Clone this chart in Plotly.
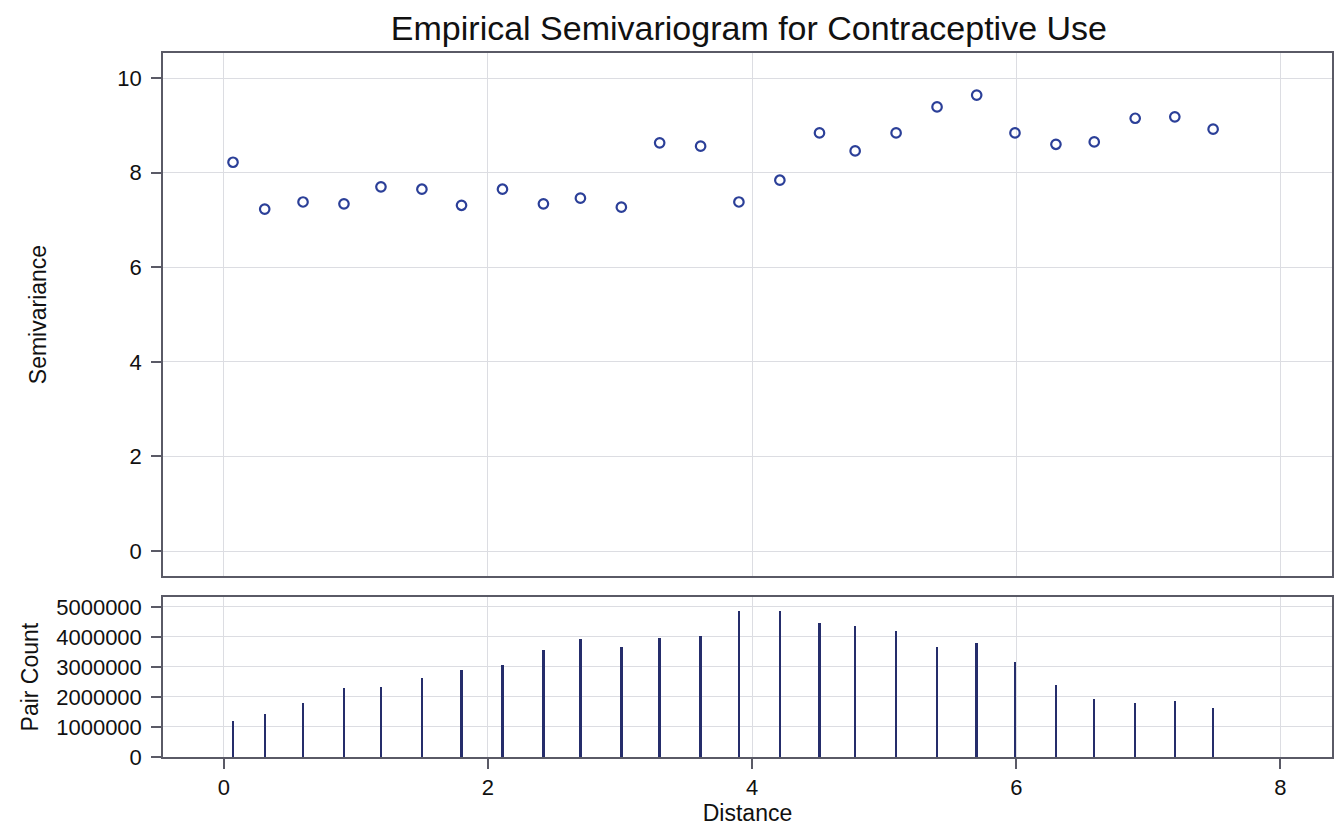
import plotly.graph_objects as go
from plotly.subplots import make_subplots

distance = [0.07, 0.31, 0.60, 0.91, 1.19, 1.50, 1.80, 2.11, 2.42, 2.70, 3.01, 3.30,
            3.61, 3.90, 4.21, 4.51, 4.78, 5.09, 5.40, 5.70, 5.99, 6.30, 6.59, 6.90,
            7.20, 7.49]
semivariance = [8.22, 7.23, 7.38, 7.34, 7.70, 7.65, 7.31, 7.65, 7.34, 7.46, 7.27, 8.63,
                8.56, 7.38, 7.84, 8.84, 8.46, 8.84, 9.39, 9.64, 8.84, 8.60, 8.65, 9.15,
                9.18, 8.92]
pair_count = [1180000, 1440000, 1790000, 2280000, 2340000, 2640000, 2880000, 3050000,
              3540000, 3920000, 3670000, 3960000, 4020000, 4870000, 4870000, 4450000,
              4340000, 4200000, 3670000, 3790000, 3160000, 2400000, 1930000, 1790000,
              1850000, 1610000]

FONT = "Liberation Sans, Arial, Helvetica, sans-serif"
LINE = "#5a5a66"
GRID = "#dcdde2"

fig = make_subplots(rows=2, cols=1, shared_xaxes=True, vertical_spacing=0.03,
                    row_heights=[0.77, 0.23])

fig.add_trace(go.Scatter(
    x=distance, y=semivariance, mode="markers",
    marker=dict(symbol="circle-open", size=9.5, color="#2b3f98", line=dict(width=2.2)),
    showlegend=False), row=1, col=1)

fig.add_trace(go.Bar(
    x=distance, y=pair_count, width=0.018,
    marker=dict(color="#252d6b", line=dict(width=0)),
    showlegend=False), row=2, col=1)

fig.update_layout(
    width=1335, height=826,
    margin=dict(l=163, r=1, t=53, b=69),
    paper_bgcolor="white", plot_bgcolor="white",
    font=dict(family=FONT, size=22, color="#111"),
    title=dict(text="Empirical Semivariogram for Contraceptive Use",
               font=dict(size=34, color="#111"), x=0.561, xanchor="center",
               y=0.966, yanchor="middle"),
    bargap=0,
)

fig.update_layout(
    yaxis=dict(domain=[0.257, 1.0]),
    yaxis2=dict(domain=[0.0, 0.227]),
)

xcommon = dict(range=[-0.46, 8.39], tickvals=[0, 2, 4, 6, 8], showgrid=True,
               gridcolor=GRID, gridwidth=1, showline=True, linecolor=LINE,
               linewidth=1.5, mirror=True, zeroline=False)
fig.update_xaxes(**xcommon, row=1, col=1, ticks="", showticklabels=False)
fig.update_xaxes(**xcommon, row=2, col=1, ticks="outside", ticklen=10,
                 tickcolor=LINE, tickwidth=1.5, automargin=False,
                 title=dict(text="Distance", font=dict(size=23), standoff=11))

fig.update_yaxes(range=[-0.53, 10.53], tickvals=[0, 2, 4, 6, 8, 10],
                 showgrid=True, gridcolor=GRID, showline=True, linecolor=LINE,
                 linewidth=1.5, mirror=True, zeroline=False, ticks="outside",
                 ticklen=10, tickcolor=LINE, tickwidth=1.5, ticklabelstandoff=5,
                 title=dict(text="Semivariance", font=dict(size=23), standoff=64),
                 row=1, col=1)
fig.update_yaxes(range=[0, 5320000],
                 tickvals=[0, 1000000, 2000000, 3000000, 4000000, 5000000],
                 ticktext=["0", "1000000", "2000000", "3000000", "4000000", "5000000"],
                 showgrid=True, gridcolor=GRID, showline=True, linecolor=LINE,
                 linewidth=1.5, mirror=True, zeroline=False, ticks="outside",
                 ticklen=10, tickcolor=LINE, tickwidth=1.5, ticklabelstandoff=5,
                 title=dict(text="Pair Count", font=dict(size=23), standoff=11),
                 row=2, col=1)

fig.write_html("out.html")
